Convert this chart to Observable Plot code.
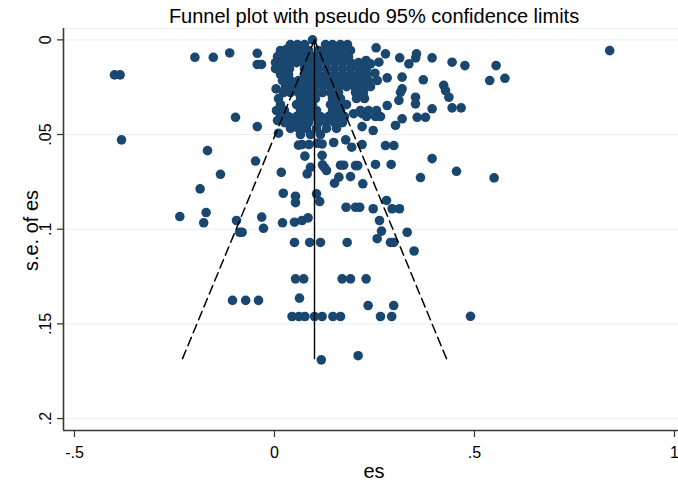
<!DOCTYPE html>
<html>
<head>
<meta charset="utf-8">
<script src="https://cdn.jsdelivr.net/npm/d3@7"></script>
<script src="https://cdn.jsdelivr.net/npm/@observablehq/plot@0.6"></script>
<style>
  html, body { margin: 0; padding: 0; background: #ffffff; }
  #chart svg { display: block; }
</style>
</head>
<body>
<div id="chart"></div>
<script>
// ---- Data (es, s.e. of es) ----
const outerStudies = [
  [-0.400, 0.0185], [-0.386, 0.0185], [-0.199, 0.0092], [-0.153, 0.0092],
  [-0.112, 0.0069], [-0.043, 0.0071], [-0.043, 0.0130], [-0.0325, 0.0130],
  [-0.0975, 0.0409], [-0.043, 0.0458], [-0.3825, 0.0528], [-0.1675, 0.0585],
  [-0.0475, 0.0640], [-0.135, 0.0710], [0.017, 0.0700], [-0.186, 0.0787],
  [0.022, 0.0810], [0.0525, 0.0826], [0.0525, 0.0860], [-0.171, 0.0912],
  [-0.2367, 0.0933], [-0.177, 0.0966], [-0.095, 0.0954], [-0.032, 0.0936],
  [0.020, 0.0966], [0.050, 0.0963], [0.069, 0.0954], [0.084, 0.0940],
  [-0.087, 0.1016], [-0.081, 0.1016], [-0.0275, 0.0995],
  [0.050, 0.1070], [0.088, 0.1070], [0.115, 0.1070], [0.1817, 0.1070],
  [0.010, 0.0493], [0.0075, 0.0426], [0.060, 0.0556]
];
const middleStudies = [
  [0.069, 0.0553], [0.086, 0.0553], [0.107, 0.0546], [0.119, 0.0550],
  [0.148, 0.0542], [0.178, 0.0528], [0.193, 0.0567], [0.219, 0.0553],
  [0.2775, 0.0558], [0.2983, 0.0558], [0.394, 0.0627], [0.455, 0.0694],
  [0.549, 0.0729], [0.365, 0.0727], [0.076, 0.0614], [0.119, 0.0610],
  [0.090, 0.0673], [0.0817, 0.0708], [0.120, 0.0660], [0.130, 0.0690],
  [0.125, 0.0675], [0.165, 0.0662], [0.173, 0.0662], [0.2025, 0.0664],
  [0.208, 0.0664], [0.2525, 0.0658], [0.2917, 0.0658], [0.190, 0.0722],
  [0.161, 0.0725], [0.150, 0.0757], [0.2208, 0.0760], [0.105, 0.0813],
  [0.113, 0.0854], [0.179, 0.0884], [0.2025, 0.0884], [0.213, 0.0884],
  [0.2467, 0.0892], [0.280, 0.0848], [0.294, 0.0892], [0.3125, 0.0892],
  [0.2625, 0.0954], [0.2675, 0.1010], [0.2567, 0.1050], [0.3317, 0.1016],
  [0.290, 0.1070], [0.298, 0.1070], [0.349, 0.1115]
];
const lowerStudies = [
  [0.0525, 0.1262], [0.073, 0.1262], [0.169, 0.1262], [0.190, 0.1262],
  [0.229, 0.1262], [-0.105, 0.1376], [-0.072, 0.1376], [-0.040, 0.1376],
  [0.0625, 0.1364], [0.234, 0.1403], [0.298, 0.1403], [0.265, 0.1461],
  [0.293, 0.1461], [0.044, 0.1461], [0.061, 0.1461], [0.076, 0.1461],
  [0.100, 0.1461], [0.119, 0.1461], [0.146, 0.1461], [0.165, 0.1461],
  [0.117, 0.1690], [0.209, 0.1668], [0.490, 0.1460]
];
const upperRightStudies = [
  [0.838, 0.0057], [0.554, 0.0136], [0.538, 0.0215], [0.576, 0.0203],
  [0.476, 0.0136], [0.444, 0.0118], [0.394, 0.0095], [0.355, 0.0074],
  [0.353, 0.0095], [0.336, 0.0127], [0.313, 0.0095], [0.2775, 0.0074],
  [0.254, 0.0042], [0.180, 0.0035], [0.157, 0.0039], [0.372, 0.0211],
  [0.423, 0.0240], [0.4275, 0.0268], [0.436, 0.0303], [0.319, 0.0197],
  [0.319, 0.0259], [0.315, 0.0277], [0.3525, 0.0303], [0.3525, 0.0338],
  [0.311, 0.0320], [0.2817, 0.0347], [0.394, 0.0364], [0.444, 0.0359],
  [0.4667, 0.0359], [0.319, 0.0417], [0.3025, 0.0452], [0.3567, 0.0409],
  [0.3775, 0.0409], [0.2525, 0.0405], [0.265, 0.0405], [0.2467, 0.0479],
  [0.219, 0.0458], [0.229, 0.0109], [0.240, 0.0127], [0.261, 0.0118],
  [0.205, 0.0136], [0.223, 0.0145], [0.251, 0.0176], [0.257, 0.0215],
  [0.2817, 0.0201], [0.219, 0.0390], [0.215, 0.0373], [0.198, 0.0390]
];
const coreStudies = [
  [0.095, 0.0000], [0.030, 0.0050],
  [0.040, 0.0025], [0.0575, 0.0025], [0.075, 0.0025], [0.1275, 0.0025], [0.145, 0.0025], [0.165, 0.0025], [0.1825, 0.0025],
  [0.015, 0.0056], [0.0325, 0.0056], [0.050, 0.0056], [0.0675, 0.0056], [0.085, 0.0056], [0.110, 0.0056], [0.1275, 0.0056], [0.1475, 0.0056], [0.1675, 0.0056], [0.190, 0.0056],
  [0.0075, 0.0088], [0.025, 0.0088], [0.0425, 0.0088], [0.060, 0.0088], [0.0775, 0.0088], [0.095, 0.0088], [0.115, 0.0088], [0.1325, 0.0088], [0.150, 0.0088], [0.1675, 0.0088], [0.185, 0.0088],
  [0.0025, 0.0120], [0.020, 0.0120], [0.0375, 0.0120], [0.055, 0.0120], [0.0725, 0.0120], [0.090, 0.0120], [0.110, 0.0120], [0.130, 0.0120], [0.150, 0.0120], [0.170, 0.0120], [0.190, 0.0120], [0.210, 0.0120],
  [0.0025, 0.0152], [0.020, 0.0152], [0.0375, 0.0152], [0.075, 0.0152], [0.0925, 0.0152], [0.110, 0.0152], [0.130, 0.0152], [0.150, 0.0152], [0.170, 0.0152], [0.190, 0.0152], [0.210, 0.0152], [0.230, 0.0152],
  [0.015, 0.0183], [0.035, 0.0183], [0.075, 0.0183], [0.0925, 0.0183], [0.110, 0.0183], [0.130, 0.0183], [0.150, 0.0183], [0.170, 0.0183], [0.190, 0.0183], [0.210, 0.0183], [0.230, 0.0183],
  [0.020, 0.0215], [0.040, 0.0215], [0.060, 0.0215], [0.0775, 0.0215], [0.095, 0.0215], [0.115, 0.0215], [0.135, 0.0215], [0.155, 0.0215], [0.175, 0.0215], [0.195, 0.0215], [0.215, 0.0215], [0.235, 0.0215],
  [0.004, 0.0259], [0.0275, 0.0247], [0.045, 0.0247], [0.065, 0.0247], [0.0825, 0.0247], [0.100, 0.0247], [0.120, 0.0247], [0.140, 0.0247], [0.160, 0.0247], [0.180, 0.0247], [0.200, 0.0247], [0.220, 0.0247], [0.240, 0.0247],
  [0.0225, 0.0278], [0.040, 0.0278], [0.060, 0.0278], [0.080, 0.0278], [0.100, 0.0278], [0.120, 0.0278], [0.140, 0.0278], [0.160, 0.0278], [0.2025, 0.0278], [0.2225, 0.0278],
  [0.010, 0.0310], [0.065, 0.0310], [0.085, 0.0310], [0.1025, 0.0310], [0.145, 0.0310], [0.165, 0.0310], [0.205, 0.0310], [0.225, 0.0310],
  [0.015, 0.0342], [0.055, 0.0342], [0.075, 0.0342], [0.095, 0.0342], [0.140, 0.0342], [0.160, 0.0342], [0.180, 0.0342],
  [0.005, 0.0373], [0.025, 0.0373], [0.065, 0.0373], [0.085, 0.0373], [0.105, 0.0373], [0.145, 0.0373], [0.165, 0.0373], [0.235, 0.0373], [0.255, 0.0373],
  [0.015, 0.0405], [0.035, 0.0405], [0.055, 0.0405], [0.075, 0.0405], [0.095, 0.0405], [0.115, 0.0405], [0.135, 0.0405], [0.155, 0.0405], [0.175, 0.0405], [0.230, 0.0405],
  [0.025, 0.0437], [0.045, 0.0437], [0.065, 0.0437], [0.085, 0.0437], [0.110, 0.0437], [0.130, 0.0437], [0.150, 0.0437], [0.170, 0.0437],
  [0.040, 0.0468], [0.060, 0.0468], [0.080, 0.0468], [0.105, 0.0468], [0.130, 0.0468], [0.155, 0.0468],
  [0.065, 0.0500], [0.090, 0.0500], [0.115, 0.0500]
];

const pooledEs = 0.1;     // vertical line position
const maxSe = 0.169;      // bottom of the funnel
const z95 = 1.96;

const xTickValues = [-0.5, 0, 0.5, 1];
const xTickLabels = ["-.5", "0", ".5", "1"];
const yTickValues = [0, 0.05, 0.1, 0.15, 0.2];
const yTickLabels = ["0", ".05", ".1", ".15", ".2"];

const titleText = "Funnel plot with pseudo 95% confidence limits";
const xLabel = "es";
const yLabel = "s.e. of es";

// ---- Build ----
const studies = [...coreStudies, ...outerStudies, ...middleStudies, ...lowerStudies, ...upperRightStudies];
const leftLimit = [[pooledEs, 0], [pooledEs - z95 * maxSe, maxSe]];
const rightLimit = [[pooledEs, 0], [pooledEs + z95 * maxSe, maxSe]];

const xDomain = [-0.5275, 1.01];
const yDomain = [-0.006, 0.2063];
const axisColor = "#3a3a3a";
const gridColor = "#e6eef0";
const dotColor = "#1a476f";
const font = "'Liberation Sans', Arial, Helvetica, sans-serif";

const chart = Plot.plot({
  width: 678,
  height: 482,
  marginLeft: 63,
  marginRight: 0,
  marginTop: 28,
  marginBottom: 52,
  style: { fontFamily: font, background: "#ffffff", color: "#000000", overflow: "visible" },
  x: { domain: xDomain },
  y: { domain: yDomain, reverse: true },
  marks: [
    Plot.gridY(yTickValues, { stroke: gridColor, strokeOpacity: 1, strokeWidth: 1 }),
    Plot.ruleY([yDomain[0]], { stroke: gridColor, strokeOpacity: 1, strokeWidth: 1 }),
    Plot.dot(studies, { x: d => d[0], y: d => d[1], r: 4.8, fill: dotColor, stroke: "none" }),
    Plot.ruleX([pooledEs], { y1: 0, y2: maxSe, stroke: "#000000", strokeWidth: 1.4 }),
    Plot.line(leftLimit, { x: d => d[0], y: d => d[1], stroke: "#000000", strokeWidth: 1.5, strokeDasharray: "9,5" }),
    Plot.line(rightLimit, { x: d => d[0], y: d => d[1], stroke: "#000000", strokeWidth: 1.5, strokeDasharray: "9,5" }),
    Plot.ruleX([xDomain[0]], { stroke: axisColor, strokeWidth: 1.6 }),
    Plot.ruleY([yDomain[1]], { stroke: axisColor, strokeWidth: 1.6 }),
    Plot.axisX(xTickValues, { tickSize: 7, tickFormat: () => "", stroke: axisColor, strokeWidth: 1.3, label: null }),
    Plot.axisY(yTickValues, { tickSize: 6, tickFormat: () => "", stroke: axisColor, strokeWidth: 1.3, label: null }),
    Plot.text(xTickValues, {
      x: d => d, text: d => xTickLabels[xTickValues.indexOf(d)],
      frameAnchor: "bottom", dy: 27, lineAnchor: "bottom", textAnchor: "middle",
      fontSize: 16, fill: "#000000"
    }),
    Plot.text(yTickValues, {
      y: d => d, text: d => yTickLabels[yTickValues.indexOf(d)],
      frameAnchor: "left", dx: -13, rotate: -90, lineAnchor: "bottom", textAnchor: "middle",
      fontSize: 16, fill: "#000000"
    }),
    Plot.text([titleText], {
      text: d => d, frameAnchor: "top", dx: 3, dy: -6, lineAnchor: "bottom",
      fontSize: 20, fill: "#000000"
    }),
    Plot.text([xLabel], {
      text: d => d, frameAnchor: "bottom", dx: 3, dy: 47, lineAnchor: "bottom",
      fontSize: 20, fill: "#000000"
    }),
    Plot.text([yLabel], {
      text: d => d, frameAnchor: "left", dx: -26, dy: 1, rotate: -90, lineAnchor: "bottom",
      textAnchor: "middle", fontSize: 20, fill: "#000000"
    })
  ]
});

document.getElementById("chart").appendChild(chart);
</script>
</body>
</html>
